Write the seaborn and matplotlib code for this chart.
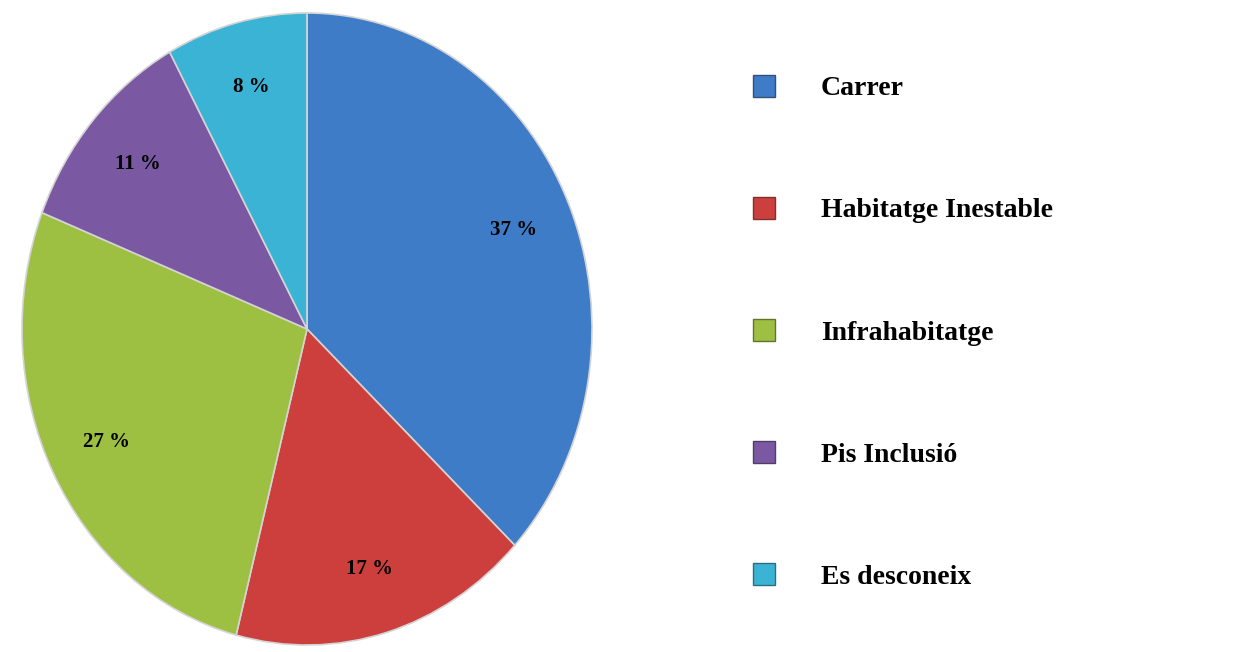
import matplotlib
matplotlib.use("Agg")
import matplotlib.pyplot as plt
from matplotlib.lines import Line2D
import seaborn as sns

# dades del gràfic
categories = ['Carrer', 'Habitatge Inestable', 'Infrahabitatge', 'Pis Inclusió', 'Es desconeix']
percentatges = [37, 17, 27, 11, 8]
colors = ['#3f7cc8', '#cc3f3c', '#9dc043', '#7a58a2', '#3ab3d4']

sns.set_theme(style='white')
plt.rcParams['font.family'] = ['Liberation Serif', 'DejaVu Serif']

paleta = sns.color_palette(colors)

fig = plt.figure(figsize=(12.37, 6.52), dpi=100)
# eix del pastís (el·líptic, més alt que ample)
ax = fig.add_axes([22 / 1237, 7 / 652, 570 / 1237, 632 / 652])

wedges, textos, pcts = ax.pie(
    percentatges, colors=paleta, startangle=90, counterclock=False,
    autopct=lambda p: f'{p:.0f} %', pctdistance=0.79,
    wedgeprops=dict(edgecolor='#d4d4d4', linewidth=1.2),
    textprops=dict(fontsize=15, fontweight='bold', color='black'))
ax.set_aspect('auto')
ax.set_xlim(-1.0, 1.0)
ax.set_ylim(-1.0, 1.0)

# llegenda a la dreta
handles = [Line2D([0], [0], marker='s', linestyle='none', markersize=16,
                  markerfacecolor=c, markeredgecolor=sns.dark_palette(c, 3)[1],
                  markeredgewidth=1.0) for c in colors]
leg = fig.legend(handles, categories, loc='upper left',
                 bbox_to_anchor=(736 / 1237, 1 - 62 / 652),
                 frameon=False, prop=dict(weight='bold', size=20),
                 handlelength=1.0, handletextpad=1.55, labelspacing=3.48,
                 borderpad=0)
for t in leg.get_texts():
    t.set_color('black')

fig.savefig('out.png', dpi=100, facecolor='white')
